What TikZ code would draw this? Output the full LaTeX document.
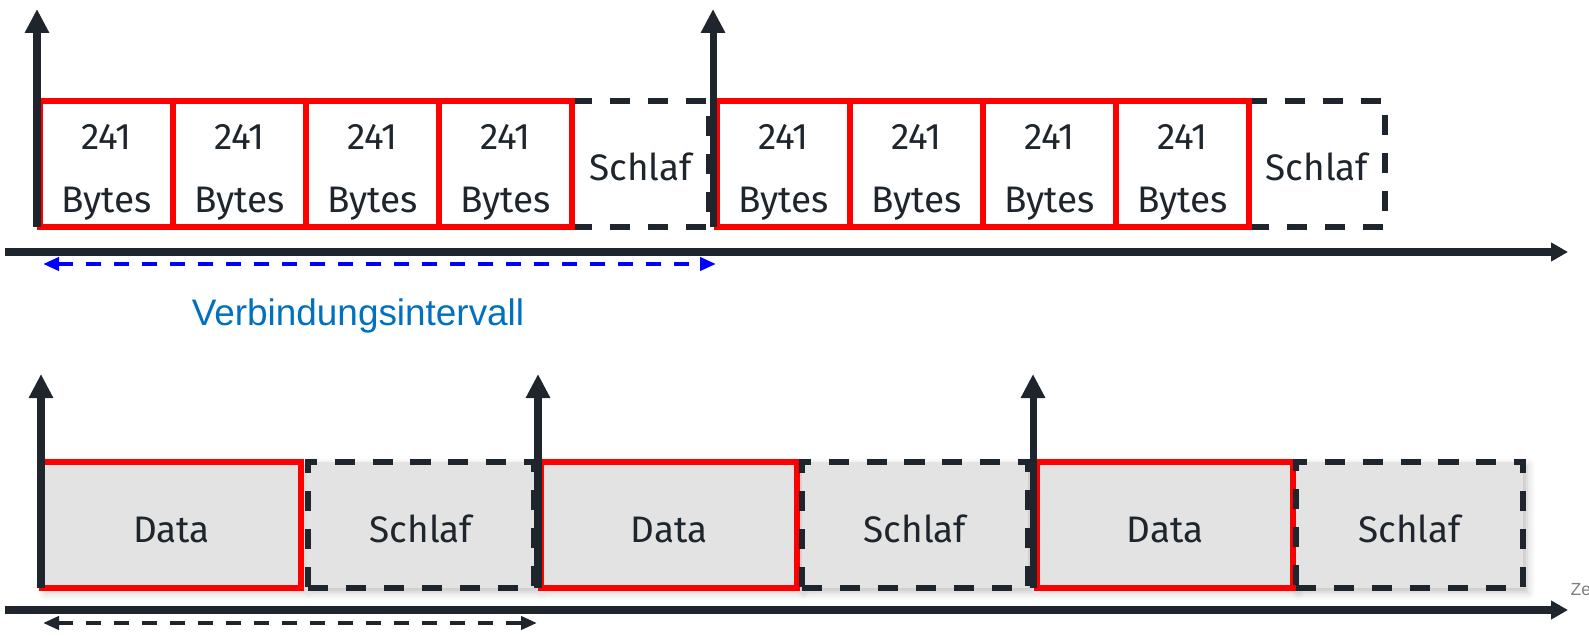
\documentclass[tikz,border=0pt]{standalone}
\usepackage{fontspec}
\setmainfont{Fira Sans}
\newfontfamily\arialfont{Liberation Sans}
\usepackage{xcolor}
\usepackage{tikz}
\usetikzlibrary{arrows.meta, positioning, shadows.blur}

\definecolor{ink}{RGB}{30,37,45}
\definecolor{linkblue}{RGB}{0,112,192}
\definecolor{sleepgray}{RGB}{227,227,227}
\newcommand{\boxstrut}{\rule{0pt}{9.8pt}}

\begin{document}
\begin{tikzpicture}[
    box/.style={rectangle, minimum height=1.26cm, inner sep=0pt, outer sep=0pt, text=ink, font=\fontsize{10.5}{17.9}\selectfont},
    busy/.style={box, draw=red, line width=1.5pt},
    packet/.style={busy, minimum width=1.33cm, label={[align=center, text=ink, font=\fontsize{10.5}{17.9}\selectfont, yshift=-0.08cm]center:{241\\Bytes}}},
    sleep/.style={box, draw=ink, line width=1.6pt, dash pattern=on 5.7pt off 5.1pt},
    shaded/.style={fill=sleepgray, blur shadow={shadow xshift=0.04cm, shadow yshift=-0.04cm, shadow blur radius=0.08cm, shadow opacity=25}},
    tick/.style={draw=ink, line width=2pt, -{Triangle[length=0.24cm, width=0.23cm]}},
    axis/.style={draw=ink, line width=2pt, -{Triangle[length=0.17cm, width=0.18cm]}},
    span/.style={line width=1.3pt, dash pattern=on 0.15cm off 0.13cm, {Triangle[length=0.16cm, width=0.13cm]}-{Triangle[length=0.16cm, width=0.13cm]}}
]
\useasboundingbox (0,0) rectangle (15.89,6.35);

% upper timeline: sleep first, packets hang off its left side
\node [sleep, minimum width=1.37cm] (s1) at (6.405,4.71) {\boxstrut Schlaf};
\node [packet, left=0pt of s1] (b4) {};
\node [packet, left=0pt of b4] (b3) {};
\node [packet, left=0pt of b3] (b2) {};
\node [packet, left=0pt of b2] (b1) {};

\node [sleep, minimum width=1.36cm] (s2) at (13.17,4.71) {\boxstrut Schlaf};
\node [packet, left=0pt of s2] (b8) {};
\node [packet, left=0pt of b8] (b7) {};
\node [packet, left=0pt of b7] (b6) {};
\node [packet, left=0pt of b6] (b5) {};

\draw [tick] ([xshift=-0.03cm]b1.south west) -- ++(0,2.18);
\draw [tick] ([xshift=-0.04cm]b5.south west) -- ++(0,2.18);

\coordinate (upper start) at (0.05,3.83);
\coordinate (upper end) at (15.68,3.83);
\draw [axis] (upper start) -- (upper end);

\draw [span, blue] ([xshift=0.03cm, yshift=-0.37cm]b1.south west) -- ([xshift=-0.01cm, yshift=-0.37cm]b5.south west);
\node [anchor=base, text=linkblue, font=\arialfont\fontsize{10.5}{12}\selectfont] (intervall) at (3.58,3.10) {Verbindungsintervall};

% lower timeline: one data block, then sleep
\node [busy, shaded, minimum width=2.59cm] (d1) at (1.715,1.10) {\boxstrut Data};
\node [sleep, shaded, minimum width=2.26cm, right=0.07cm of d1] (z1) {\boxstrut Schlaf};
\node [busy, shaded, minimum width=2.56cm, right=0.07cm of z1] (d2) {\boxstrut Data};
\node [sleep, shaded, minimum width=2.26cm, right=0.05cm of d2] (z2) {\boxstrut Schlaf};
\node [busy, shaded, minimum width=2.56cm, right=0.09cm of z2] (d3) {\boxstrut Data};
\node [sleep, shaded, minimum width=2.27cm, right=0.03cm of d3] (z3) {\boxstrut Schlaf};

\draw [tick] ([xshift=-0.01cm]d1.south west) -- ++(0,2.14);
\draw [tick] ([xshift=-0.03cm]d2.south west) -- ++(0,2.14);
\draw [tick] ([xshift=-0.04cm]d3.south west) -- ++(0,2.14);

\coordinate (lower start) at (0.05,0.25);
\coordinate (lower end) at (15.68,0.25);
\draw [axis] (lower start) -- (lower end);

\draw [span, ink] ([xshift=0.01cm, yshift=-0.35cm]d1.south west) -- ([xshift=-0.04cm, yshift=-0.35cm]d2.south west);
\node [anchor=base west, inner sep=0pt, text=gray, font=\arialfont\fontsize{5}{6}\selectfont] (zeit) at (15.70,0.40) {Ze};
\end{tikzpicture}
\end{document}
